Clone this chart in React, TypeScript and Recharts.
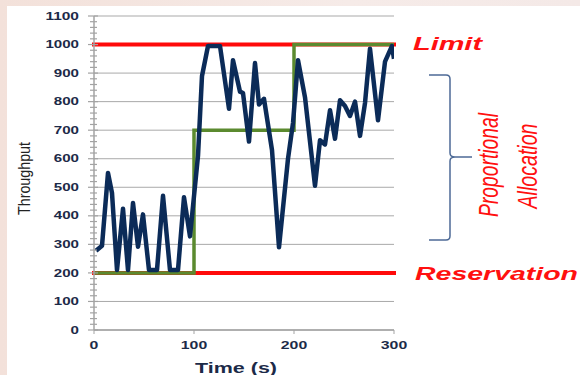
import React from "react";
import { LineChart, Line, XAxis, YAxis, CartesianGrid, ReferenceLine } from "recharts";

// measured throughput over time (s)
const seconds = [
  2, 8, 14, 18, 23, 29, 34, 39, 44, 49, 55, 63, 69, 76, 84, 90, 96, 104, 108, 114, 126, 135,
  139, 146, 149, 155, 161, 165, 170, 178, 185, 194, 199, 204, 211, 221, 226, 231, 236, 241,
  246, 251, 256, 261, 266, 271, 276, 284, 291, 298, 300,
];
const throughput = [
  278, 295, 550, 480, 210, 425, 210, 445, 292, 405, 210, 210, 470, 210, 210, 465, 328, 610,
  890, 995, 995, 775, 945, 835, 830, 660, 935, 790, 810, 630, 290, 600, 725, 945, 815, 505,
  665, 650, 770, 670, 805, 785, 750, 800, 680, 795, 985, 735, 940, 995, 950,
];

// allocation steps
const stepTimes = [0, 100, 200, 300];
const stepValues = [200, 700, 1000, 1000];

const LIMIT = 1000;
const RESERVATION = 200;

const xTicks = [0, 100, 200, 300];
const yLabels = [0, 100, 200, 300, 400, 500, 600, 700, 800, 900, 1000, 1100];
const yMinorTicks = Array.from({ length: 56 }, (_, i) => i * 20);

const throughputData = seconds.map((t, i) => ({ t, v: throughput[i] }));
const stepData = stepTimes.map((t, i) => ({ t, v: stepValues[i] }));

const FONT = "'Liberation Sans', Arial, sans-serif";
const AXIS_GRAY = "#a3a3a3";
const LABEL_INK = "#1c2a48";

function YTick(props: any) {
  const { y, payload } = props;
  const v = payload.value as number;
  const major = v % 100 === 0;
  const label = String(v);
  return (
    <g>
      <line x1={major ? 88 : 90} x2={major ? 98 : 97} y1={y} y2={y} stroke={AXIS_GRAY} strokeWidth={1.2} />
      {major && (
        <text
          x={79}
          y={y}
          dy={3.6}
          textAnchor="end"
          fontFamily={FONT}
          fontWeight="bold"
          fontSize={10}
          fill={LABEL_INK}
          textLength={label.length * 8.4}
          lengthAdjust="spacingAndGlyphs"
        >
          {label}
        </text>
      )}
    </g>
  );
}

function XTick(props: any) {
  const { x, payload } = props;
  const label = String(payload.value);
  return (
    <text
      x={x}
      y={349}
      textAnchor="middle"
      fontFamily={FONT}
      fontWeight="bold"
      fontSize={10}
      fill={LABEL_INK}
      textLength={label.length * 8.8}
      lengthAdjust="spacingAndGlyphs"
    >
      {label}
    </text>
  );
}

export default function App() {
  return (
    <div
      style={{
        position: "absolute",
        left: 0,
        top: 0,
        width: 580,
        height: 375,
        background: "linear-gradient(90deg, #f3e1da, #f6ebe8 60%, #f4e9e7)",
        overflow: "hidden",
      }}
    >
      <div style={{ position: "absolute", left: 7, top: 6, right: 0, bottom: 0, background: "#ffffff" }} />
      <div style={{ position: "absolute", left: 0, top: 0 }}>
        <LineChart width={580} height={375} margin={{ top: 16, right: 186, bottom: 0, left: 0 }}>
          <CartesianGrid horizontal vertical={false} horizontalValues={yLabels} stroke="#a9a9a9" strokeWidth={1} />
          <XAxis
            dataKey="t"
            type="number"
            domain={[0, 300]}
            ticks={xTicks}
            interval={0}
            height={45}
            allowDataOverflow
            axisLine={{ stroke: AXIS_GRAY, strokeWidth: 1.5 }}
            tickLine={{ stroke: AXIS_GRAY }}
            tickSize={4}
            tick={<XTick />}
          />
          <YAxis
            type="number"
            domain={[0, 1100]}
            ticks={yMinorTicks}
            interval={0}
            width={94}
            allowDataOverflow
            axisLine={{ stroke: AXIS_GRAY, strokeWidth: 1.5 }}
            tickLine={false}
            tick={<YTick />}
          />
          <ReferenceLine y={LIMIT} stroke="#ff0a0a" strokeWidth={4} strokeLinecap="square" />
          <ReferenceLine y={RESERVATION} stroke="#ff0a0a" strokeWidth={4} strokeLinecap="square" />
          <Line
            data={stepData}
            dataKey="v"
            type="stepAfter"
            stroke="#5b8a2f"
            strokeWidth={3.5}
            dot={false}
            isAnimationActive={false}
          />
          <Line
            data={throughputData}
            dataKey="v"
            type="linear"
            stroke="#0b2b58"
            strokeWidth={4.5}
            strokeLinejoin="round"
            dot={false}
            isAnimationActive={false}
          />
        </LineChart>
      </div>
      <svg
        width={580}
        height={375}
        style={{ position: "absolute", left: 0, top: 0, pointerEvents: "none" }}
      >
        <text
          transform="translate(29.5,178.5) scale(1.2,1) rotate(-90)"
          textAnchor="middle"
          fontFamily={FONT}
          fontSize={14}
          fill="#222"
          textLength={73}
          lengthAdjust="spacingAndGlyphs"
        >
          Throughput
        </text>
        <text
          x={195}
          y={373}
          fontFamily={FONT}
          fontWeight="bold"
          fontSize={15}
          fill={LABEL_INK}
          textLength={82}
          lengthAdjust="spacingAndGlyphs"
        >
          Time (s)
        </text>
        <text
          x={413}
          y={50}
          fontFamily={FONT}
          fontWeight="bold"
          fontStyle="italic"
          fontSize={18}
          fill="#ff1010"
          textLength={69}
          lengthAdjust="spacingAndGlyphs"
        >
          Limit
        </text>
        <text
          x={415}
          y={280}
          fontFamily={FONT}
          fontWeight="bold"
          fontStyle="italic"
          fontSize={18}
          fill="#ff1010"
          textLength={163}
          lengthAdjust="spacingAndGlyphs"
        >
          Reservation
        </text>
        <path
          d="M429 75 L446 75 Q450 75 450 79 L450 153 Q450 157 455 157 L472 157 M455 157 Q450 157 450 161 L450 236 Q450 240 446 240 L429 240"
          fill="none"
          stroke="#4d6a96"
          strokeWidth={1.5}
        />
        <text
          transform="translate(498,165) scale(1.45,1) rotate(-90)"
          textAnchor="middle"
          fontFamily={FONT}
          fontStyle="italic"
          fontSize={19}
          fill="#ff1010"
          textLength={104}
          lengthAdjust="spacingAndGlyphs"
        >
          Proportional
        </text>
        <text
          transform="translate(537,166) scale(1.45,1) rotate(-90)"
          textAnchor="middle"
          fontFamily={FONT}
          fontStyle="italic"
          fontSize={19}
          fill="#ff1010"
          textLength={85}
          lengthAdjust="spacingAndGlyphs"
        >
          Allocation
        </text>
      </svg>
    </div>
  );
}
